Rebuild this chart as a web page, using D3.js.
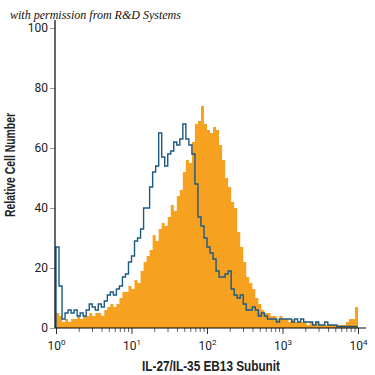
<!DOCTYPE html>
<html>
<head>
<meta charset="utf-8">
<script src="https://cdn.jsdelivr.net/npm/d3@7"></script>
<style>
  body { margin: 0; background: #fff; }
  svg { display: block; }
  .axis text { font-family: "Liberation Sans Narrow", "Roboto", sans-serif; font-size: 12px; fill: #222; }
  .axis .domain { stroke: #000; }
</style>
</head>
<body>
<div id="chart"></div>
<script>
// histogram bins, each binWidth wide in log10 units, starting at 10^0
var binWidth = 0.04;

// isotype control (outline)
var controlCounts = [
  27, 14, 3, 5, 6, 5, 6, 4, 5, 4,
  6, 8, 7, 6, 8, 7, 9, 11, 12, 11,
  13, 14, 17, 18, 22, 24, 29, 30, 33, 40,
  40, 47, 52, 54, 65, 57, 54, 58, 59, 62,
  61, 63, 68, 63, 61, 58, 48, 37, 34, 30,
  27, 25, 23, 19, 17, 17, 18, 19, 13, 11,
  10, 11, 8, 6, 6, 7, 6, 4, 5, 4,
  3, 3, 3, 2, 3, 3, 3, 3, 2, 3,
  2, 3, 2, 2, 2, 1, 2, 1, 1, 2,
  1, 1, 1, 0.5, 0.5, 0.5, 0.5, 0.5, 0.5, 0.5
];

// IL-27/IL-35 EB13 stained (filled)
var stainedCounts = [
  5, 4, 2, 3, 2, 3, 3, 4, 3, 4,
  4, 5, 4, 5, 5, 4, 6, 7, 8, 7,
  8, 10, 12, 12, 14, 13, 16, 15, 19, 22,
  24, 26, 31, 29, 33, 35, 34, 37, 41, 39,
  44, 46, 52, 56, 55, 62, 68, 69, 74, 68,
  66, 65, 67, 66, 61, 56, 50, 47, 42, 40,
  32, 27, 22, 17, 15, 13, 10, 8, 6, 5,
  5, 4, 4, 3, 4, 3, 3, 2, 3, 2,
  2, 2, 2, 1, 2, 1, 2, 1, 1, 1,
  1, 1, 1, 1, 1, 1, 2, 3, 3, 7
];

var yTicks = [0, 20, 40, 60, 80, 100];
var xDecades = [1, 10, 100, 1000, 10000];

var WIDTH = 375, HEIGHT = 375;
var ORANGE = '#f6a11f', BLUE = '#1b5a84';

var svg = d3.select('#chart').append('svg')
    .attr('width', WIDTH)
    .attr('height', HEIGHT);

var x = d3.scaleLog().domain([1, 1e4]).range([56, 358]);
var y = d3.scaleLinear().domain([0, 100]).range([328, 28]);

// turn a count list into step points (left edge of each bin + closing edge)
var toSteps = function toSteps(counts) {
    var pts = counts.map(function(c, i) {
        return {lo: Math.pow(10, i * binWidth), v: c};
    });
    pts.push({lo: Math.pow(10, counts.length * binWidth), v: counts[counts.length - 1]});
    return pts;
};

var stainedSteps = toSteps(stainedCounts);
var controlSteps = toSteps(controlCounts);

var area = d3.area()
    .curve(d3.curveStepAfter)
    .x(function(d) { return x(d.lo); })
    .y0(y(0))
    .y1(function(d) { return y(d.v); });

svg.append('path')
    .datum(stainedSteps)
    .attr('d', area)
    .attr('fill', ORANGE);

var line = d3.line()
    .curve(d3.curveStepAfter)
    .x(function(d) { return x(d.lo); })
    .y(function(d) { return y(d.v); });

// start the outline from the baseline
var controlPath = [{lo: 1, v: 0}].concat(controlSteps);
svg.append('path')
    .datum(controlPath)
    .attr('d', line)
    .attr('fill', 'none')
    .attr('stroke', BLUE)
    .attr('stroke-width', 1.4);

// y axis
var yAxis = svg.append('g')
    .attr('class', 'axis')
    .attr('transform', 'translate(55,0)')
    .call(d3.axisLeft(y).tickValues(yTicks).tickSize(5).tickSizeOuter(0));
yAxis.select('.domain').remove();
yAxis.selectAll('.tick line').attr('stroke', '#999');
yAxis.selectAll('.tick text').attr('x', -7);
svg.append('line')
    .attr('x1', 55).attr('x2', 55)
    .attr('y1', 20).attr('y2', y(0))
    .attr('stroke', '#000').attr('stroke-width', 1.2);

// x axis: minor ticks first, then decades
var minorTicks = [];
xDecades.slice(0, -1).forEach(function(d) {
    for (var k = 2; k < 10; k++) minorTicks.push(d * k);
});

var xMinor = svg.append('g')
    .attr('class', 'axis')
    .attr('transform', 'translate(0,' + y(0) + ')')
    .call(d3.axisBottom(x).tickValues(minorTicks).tickSize(4).tickFormat(''));
xMinor.select('.domain').remove();
xMinor.selectAll('.tick line').attr('stroke', '#666');

var xMajor = svg.append('g')
    .attr('class', 'axis')
    .attr('transform', 'translate(0,' + y(0) + ')')
    .call(d3.axisBottom(x).tickValues(xDecades).tickSize(6).tickFormat(''));
xMajor.select('.domain').remove();
xMajor.selectAll('.tick line').attr('stroke', '#333');

xMajor.selectAll('.tick').append('text')
    .attr('y', 22)
    .attr('fill', '#222')
    .attr('text-anchor', 'middle')
    .each(function(d) {
        var t = d3.select(this);
        t.append('tspan').text('10');
        t.append('tspan')
            .attr('dy', -5)
            .style('font-size', '8px')
            .text(Math.round(Math.log10(d)));
    });

svg.append('line')
    .attr('x1', 55).attr('x2', 366)
    .attr('y1', y(0)).attr('y2', y(0))
    .attr('stroke', '#000').attr('stroke-width', 1.2);

// titles (condensed to the reference widths)
svg.append('text')
    .attr('x', 211)
    .attr('y', 371)
    .attr('text-anchor', 'middle')
    .attr('textLength', 138)
    .attr('lengthAdjust', 'spacingAndGlyphs')
    .style('font-family', '"Liberation Sans Narrow", sans-serif')
    .style('font-weight', 'bold')
    .style('font-size', '15px')
    .attr('fill', '#222')
    .text('IL-27/IL-35 EB13 Subunit');

svg.append('text')
    .attr('transform', 'translate(15,165) rotate(-90)')
    .attr('text-anchor', 'middle')
    .attr('textLength', 104)
    .attr('lengthAdjust', 'spacingAndGlyphs')
    .style('font-family', '"Liberation Sans Narrow", sans-serif')
    .style('font-weight', 'bold')
    .style('font-size', '14px')
    .attr('fill', '#222')
    .text('Relative Cell Number');

svg.append('text')
    .attr('x', 10)
    .attr('y', 19)
    .style('font-family', '"Liberation Serif", serif')
    .style('font-style', 'italic')
    .style('font-size', '12px')
    .attr('fill', '#111')
    .text('with permission from R&D Systems');
</script>
</body>
</html>
